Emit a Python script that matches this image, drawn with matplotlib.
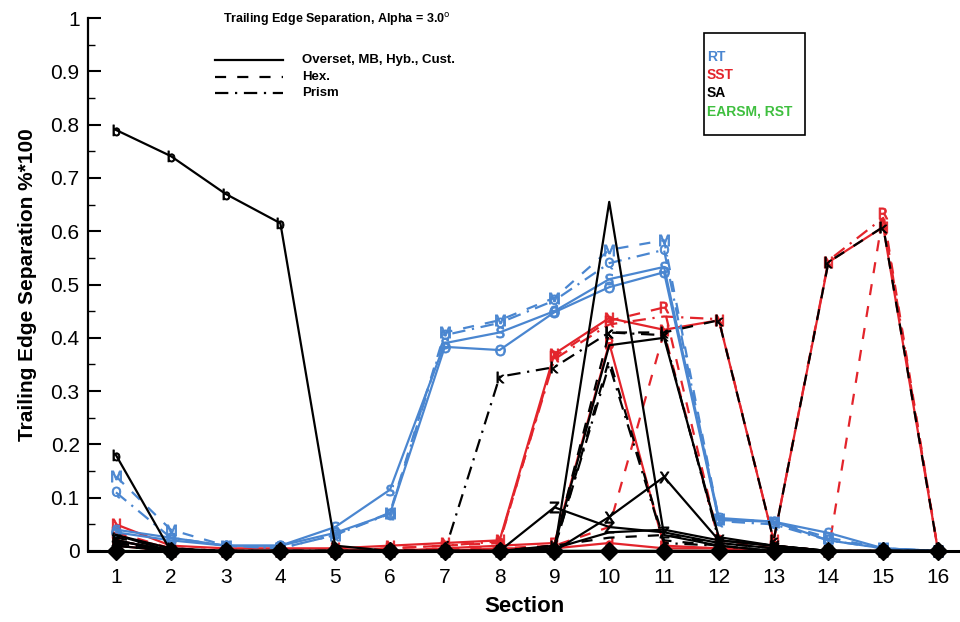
import numpy as np
import matplotlib
matplotlib.use("Agg")
import matplotlib.pyplot as plt

plt.rcParams['font.family'] = ['Liberation Sans', 'DejaVu Sans']
plt.rcParams['mathtext.fontset'] = 'dejavusans'

sections = np.arange(1, 17)

# RT model (blue)
rt_s = [0.04, 0.025, 0.01, 0.01, 0.045, 0.115, 0.39, 0.41, 0.45, 0.51, 0.533, 0.062, 0.055, 0.034, 0.005, 0.0]
rt_o = [0.035, 0.02, 0.01, 0.01, 0.034, 0.07, 0.383, 0.377, 0.448, 0.495, 0.523, 0.058, 0.055, 0.02, 0.005, 0.0]
rt_m = [0.14, 0.04, 0.01, 0.005, 0.03, 0.072, 0.41, 0.433, 0.475, 0.565, 0.583, 0.06, 0.055, 0.025, 0.005, 0.0]
rt_q = [0.11, 0.025, 0.01, 0.005, 0.03, 0.07, 0.405, 0.428, 0.47, 0.54, 0.565, 0.056, 0.05, 0.02, 0.005, 0.0]

# SST model (red)
sst_r = [0.05, 0.01, 0.005, 0.005, 0.005, 0.01, 0.015, 0.02, 0.37, 0.437, 0.415, 0.433, 0.02, 0.542, 0.608, 0.0]
sst_n = [0.035, 0.005, 0.0, 0.0, 0.0, 0.005, 0.01, 0.015, 0.365, 0.432, 0.457, 0.02, 0.01, 0.0, 0.634, 0.0]
sst_dd = [0.03, 0.005, 0.0, 0.0, 0.0, 0.005, 0.01, 0.018, 0.36, 0.425, 0.44, 0.435, 0.02, 0.545, 0.625, 0.0]
sst_rise = [0.02, 0.0, 0.0, 0.0, 0.0, 0.0, 0.005, 0.005, 0.01, 0.045, 0.41, 0.02, 0.005, 0.0, 0.0, 0.0]
sst_spike = [0.02, 0.0, 0.0, 0.0, 0.0, 0.0, 0.005, 0.01, 0.015, 0.39, 0.01, 0.005, 0.0, 0.0, 0.0, 0.0]
sst_low = [0.01, 0.0, 0.0, 0.0, 0.0, 0.0, 0.0, 0.005, 0.005, 0.015, 0.005, 0.005, 0.0, 0.0, 0.0, 0.0]

# SA model (black)
sa_b = [0.79, 0.741, 0.67, 0.615, 0.01, 0.0, 0.0, 0.0, 0.0, 0.0, 0.0, 0.0, 0.0, 0.0, 0.0, 0.0]
sa_b2 = [0.18, 0.0, 0.0, 0.0, 0.0, 0.0, 0.0, 0.0, 0.0, 0.0, 0.0, 0.0, 0.0, 0.0, 0.0, 0.0]
sa_peak = [0.03, 0.0, 0.0, 0.0, 0.0, 0.0, 0.0, 0.0, 0.0, 0.655, 0.03, 0.01, 0.0, 0.0, 0.0, 0.0]
sa_mid = [0.02, 0.0, 0.0, 0.0, 0.0, 0.0, 0.0, 0.0, 0.01, 0.386, 0.40, 0.026, 0.01, 0.0, 0.0, 0.0]
sa_hex = [0.025, 0.005, 0.0, 0.0, 0.0, 0.0, 0.0, 0.0, 0.01, 0.41, 0.41, 0.433, 0.02, 0.542, 0.608, 0.0]
sa_k = [0.015, 0.0, 0.0, 0.0, 0.0, 0.0, 0.0, 0.327, 0.345, 0.41, 0.405, 0.02, 0.01, 0.0, 0.0, 0.0]
sa_hex_spike = [0.02, 0.0, 0.0, 0.0, 0.0, 0.0, 0.0, 0.0, 0.005, 0.36, 0.02, 0.01, 0.0, 0.0, 0.0, 0.0]
sa_k_spike = [0.01, 0.0, 0.0, 0.0, 0.0, 0.0, 0.0, 0.0, 0.005, 0.35, 0.015, 0.01, 0.0, 0.0, 0.0, 0.0]
sa_x = [0.02, 0.0, 0.0, 0.0, 0.0, 0.0, 0.0, 0.0, 0.0, 0.064, 0.139, 0.02, 0.01, 0.0, 0.0, 0.0]
sa_z = [0.01, 0.0, 0.0, 0.0, 0.0, 0.0, 0.0, 0.0, 0.082, 0.045, 0.035, 0.015, 0.005, 0.0, 0.0, 0.0]
sa_low1 = [0.03, 0.005, 0.0, 0.0, 0.0, 0.0, 0.0, 0.0, 0.005, 0.035, 0.04, 0.02, 0.01, 0.0, 0.0, 0.0]
sa_low2 = [0.015, 0.0, 0.0, 0.0, 0.0, 0.0, 0.0, 0.0, 0.01, 0.025, 0.03, 0.015, 0.005, 0.0, 0.0, 0.0]
sa_zero = [0.0] * 16

# EARSM / RST (green), sitting on the axis
earsm = [0.0] * 16

BLUE = '#4a86d0'
RED = '#e3242b'
BLACK = '#000000'
GREEN = '#3fbf3f'

SOLID = '-'
DASH = (0, (5, 5))
DASHDOT = (0, (6, 3, 1, 3))

series = [
    (earsm, GREEN, SOLID, None),
    (sst_low, RED, SOLID, '$\\mathsf{d}$'),
    (sst_spike, RED, SOLID, '$\\mathsf{B}$'),
    (sst_rise, RED, DASH, None),
    (sst_dd, RED, DASHDOT, None),
    (sst_n, RED, DASH, '$\\mathsf{R}$'),
    (sst_r, RED, SOLID, '$\\mathsf{N}$'),
    (rt_o, BLUE, SOLID, '$\\mathsf{O}$'),
    (rt_s, BLUE, SOLID, '$\\mathsf{S}$'),
    (rt_q, BLUE, DASHDOT, '$\\mathsf{Q}$'),
    (rt_m, BLUE, DASH, '$\\mathsf{M}$'),
    (sa_low1, BLACK, SOLID, None),
    (sa_low2, BLACK, DASH, None),
    (sa_z, BLACK, SOLID, '$\\mathsf{Z}$'),
    (sa_x, BLACK, SOLID, '$\\mathsf{X}$'),
    (sa_hex_spike, BLACK, DASH, None),
    (sa_k_spike, BLACK, DASHDOT, None),
    (sa_k, BLACK, DASHDOT, '$\\mathsf{k}$'),
    (sa_hex, BLACK, DASH, '$\\mathsf{k}$'),
    (sa_mid, BLACK, SOLID, None),
    (sa_peak, BLACK, SOLID, None),
    (sa_b2, BLACK, SOLID, '$\\mathsf{b}$'),
    (sa_b, BLACK, SOLID, '$\\mathsf{b}$'),
]

fig = plt.figure(figsize=(9.6, 6.22), dpi=100)
ax = fig.add_axes([88 / 960, 1 - 551 / 622, 1 - 88 / 960, (551 - 18) / 622])

for vals, col, ls, mk in series:
    ax.plot(sections, vals, color=col, linestyle=ls, linewidth=1.6,
            marker=mk, markersize=8, markeredgewidth=0.6, clip_on=False)

# filled symbols of the zero-valued cases along the axis
ax.plot(sections, sa_zero, color=BLACK, linestyle='none', marker='D',
        markersize=9, clip_on=False, zorder=5)

ax.set_xlim(0.49, 16.4)
ax.set_ylim(0, 1)
ax.spines['top'].set_visible(False)
ax.spines['right'].set_visible(False)
ax.spines['left'].set_linewidth(1.6)
ax.spines['bottom'].set_linewidth(2.2)
ax.spines['bottom'].set_zorder(4)

ax.set_xticks(sections)
ax.set_xticklabels([str(s) for s in sections])
yt = np.round(np.arange(0, 1.01, 0.1), 1)
ax.set_yticks(yt)
ax.set_yticklabels(['0'] + [f'{v:.1f}' for v in yt[1:-1]] + ['1'])
ax.set_yticks(np.arange(0.05, 1.0, 0.1), minor=True)
ax.tick_params(axis='both', which='major', direction='in', labelsize=15, width=1.5)
ax.tick_params(axis='y', which='major', length=9, pad=6)
ax.tick_params(axis='y', which='minor', direction='in', length=5, width=1)
ax.tick_params(axis='x', which='major', length=6, pad=12)

ax.set_xlabel('Section', fontsize=16, fontweight='bold', labelpad=7)
ax.set_ylabel('Trailing Edge Separation %*100', fontsize=15, fontweight='bold', labelpad=10)

# line style key
fig.text(223 / 960, 1 - 20 / 622, 'Trailing Edge Separation, Alpha = 3.0$^{\\mathsf{o}}$',
         fontsize=9, fontweight='bold', va='center', ha='left')
keys = [(SOLID, 'Overset, MB, Hyb., Cust.', 60), (DASH, 'Hex.', 77), (DASHDOT, 'Prism', 93)]
for ls, lab, ypx in keys:
    yy = 1 - ypx / 622
    fig.add_artist(plt.Line2D([215 / 960, 283 / 960], [yy, yy], color=BLACK,
                              linestyle=ls, linewidth=1.6))
    fig.text(302 / 960, yy, lab, fontsize=9.5, fontweight='bold', va='center')

# turbulence model key
fig.add_artist(plt.Rectangle((704 / 960, 1 - 135 / 622), 101 / 960, 102 / 622,
                             fill=False, edgecolor=BLACK, linewidth=1.2))
for lab, col, ypx in [('RT', BLUE, 57), ('SST', RED, 75), ('SA', BLACK, 93), ('EARSM, RST', GREEN, 112)]:
    fig.text(707 / 960, 1 - ypx / 622, lab, color=col, fontsize=10, fontweight='bold', va='center')

fig.savefig('out.png', dpi=100)
